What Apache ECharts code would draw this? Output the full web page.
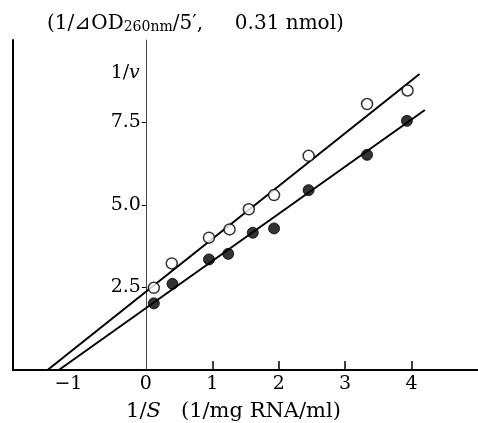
<!DOCTYPE html>
<html>
<head>
<meta charset="utf-8">
<script src="https://cdn.jsdelivr.net/npm/echarts@6/dist/echarts.min.js"></script>
<style>
  html, body { margin: 0; padding: 0; background: #fff; }
  #chart { width: 478px; height: 423px; }
</style>
</head>
<body>
<div id="chart"></div>
<script>
  // open circles
  var openX = [0.12, 0.39, 0.95, 1.26, 1.55, 1.93, 2.45, 3.33, 3.94]
  var openY = [2.49, 3.23, 4.01, 4.26, 4.87, 5.30, 6.49, 8.06, 8.47]
  // filled circles
  var fillX = [0.12, 0.40, 0.95, 1.24, 1.61, 1.93, 2.45, 3.33, 3.93]
  var fillY = [2.02, 2.61, 3.35, 3.52, 4.16, 4.29, 5.45, 6.52, 7.55]
  // fitted lines (end points)
  var openLineX = [-1.48, 4.12]
  var openLineY = [0, 8.97]
  var fillLineX = [-1.31, 4.20]
  var fillLineY = [0, 7.88]
  // axis ranges and tick labels
  var xRange = [-2, 5]
  var yRange = [0, 10]
  var xLabels = [-1, 0, 1, 2, 3, 4]
  var xTicks = [1, 2, 3, 4]
  var yLabels = [2.5, 5.0, 7.5]

  var serif = 'DejaVu Serif'

  function pairs (xs, ys) {
    var out = []
    for (var i = 0; i < xs.length; i++) out.push([xs[i], ys[i]])
    return out
  }

  // main plot box
  var gLeft = 13
  var gTop = 40
  var gBottom = 53
  var unit = (478 - gLeft) / (xRange[1] - xRange[0])
  // thin strip above the x axis, spanning 1..4, whose split lines act as the ticks
  var tLeft = gLeft + (xTicks[0] - xRange[0]) * unit
  var tRight = 478 - (gLeft + (xTicks[xTicks.length - 1] - xRange[0]) * unit)
  var tickLen = 9

  var chart = echarts.init(document.getElementById('chart'))
  chart.setOption({
    animation: false,
    backgroundColor: '#fff',
    title: {
      text: '(1/⊿OD{sub|260nm}/5′,     0.31 nmol)',
      left: 42,
      top: 9,
      textStyle: {
        fontFamily: serif,
        fontSize: 20,
        fontWeight: 'normal',
        color: '#000',
        rich: {
          sub: { fontFamily: serif, fontSize: 14, color: '#000', verticalAlign: 'bottom', padding: [5, 0, 0, 0] }
        }
      }
    },
    grid: [
      { left: gLeft, right: 0, top: gTop, bottom: gBottom, containLabel: false, outerBoundsMode: 'none' },
      { left: tLeft, right: tRight, top: 423 - gBottom - tickLen, bottom: gBottom, containLabel: false, outerBoundsMode: 'none' }
    ],
    xAxis: [
      {
        type: 'value',
        gridIndex: 0,
        min: xRange[0],
        max: xRange[1],
        interval: 1,
        splitLine: { show: false },
        axisLine: { onZero: false, lineStyle: { color: '#000', width: 2 } },
        axisTick: { show: false },
        axisLabel: {
          customValues: xLabels,
          margin: 5,
          fontFamily: serif,
          fontSize: 19,
          color: '#000',
          formatter: function (v) { return v < 0 ? '{neg|−' + Math.abs(v) + '}' : String(v) },
          rich: { neg: { fontFamily: serif, fontSize: 19, color: '#000', padding: [0, 22, 0, 0] } }
        },
        name: '1/{i|S}   (1/mg RNA/ml)',
        nameLocation: 'middle',
        nameGap: 31,
        nameTextStyle: {
          fontFamily: serif,
          fontSize: 21,
          color: '#000',
          padding: [0, 24, 0, 0],
          rich: { i: { fontFamily: serif, fontStyle: 'italic', fontSize: 21, color: '#000' } }
        }
      },
      {
        type: 'value',
        gridIndex: 1,
        min: xTicks[0],
        max: xTicks[xTicks.length - 1],
        interval: 1,
        axisLine: { show: false, onZero: false },
        axisTick: { show: false },
        axisLabel: { show: false },
        splitLine: { show: true, showMinLine: true, showMaxLine: true, lineStyle: { color: '#000', width: 1.5, type: 'solid' } }
      }
    ],
    yAxis: [
      {
        type: 'value',
        gridIndex: 0,
        position: 'left',
        offset: -(0 - xRange[0]) * unit,
        min: yRange[0],
        max: yRange[1],
        interval: 2.5,
        splitLine: { show: false },
        axisLine: { show: true, onZero: false, lineStyle: { color: '#444', width: 1 } },
        axisTick: { show: true, length: 4, customValues: yLabels, lineStyle: { color: '#000' } },
        axisLabel: {
          customValues: yLabels,
          margin: 5,
          fontFamily: serif,
          fontSize: 19,
          color: '#000',
          formatter: function (v) { return v.toFixed(1) }
        },
        name: '1/{i|v}',
        nameLocation: 'end',
        nameGap: -43,
        nameTextStyle: {
          fontFamily: serif,
          fontSize: 19,
          color: '#000',
          align: 'right',
          padding: [0, 6, 0, 0],
          rich: { i: { fontFamily: serif, fontStyle: 'italic', fontSize: 19, color: '#000' } }
        }
      },
      {
        type: 'value',
        gridIndex: 0,
        position: 'left',
        min: yRange[0],
        max: yRange[1],
        splitLine: { show: false },
        axisLine: { show: true, onZero: false, lineStyle: { color: '#000', width: 2 } },
        axisTick: { show: false },
        axisLabel: { show: false }
      },
      {
        type: 'value',
        gridIndex: 1,
        min: 0,
        max: 1,
        axisLine: { show: false },
        axisTick: { show: false },
        axisLabel: { show: false },
        splitLine: { show: false }
      }
    ],
    series: [
      {
        type: 'line',
        data: pairs(openLineX, openLineY),
        symbol: 'none',
        lineStyle: { color: '#000', width: 2 },
        z: 2
      },
      {
        type: 'line',
        data: pairs(fillLineX, fillLineY),
        symbol: 'none',
        lineStyle: { color: '#000', width: 2 },
        z: 2
      },
      {
        type: 'scatter',
        data: pairs(openX, openY),
        symbol: 'circle',
        symbolSize: 11,
        itemStyle: { color: '#fff', borderColor: '#000', borderWidth: 1.5 },
        z: 3
      },
      {
        type: 'scatter',
        data: pairs(fillX, fillY),
        symbol: 'circle',
        symbolSize: 11,
        itemStyle: { color: '#000', borderColor: '#000', borderWidth: 1 },
        z: 3
      }
    ]
  })
</script>
</body>
</html>
